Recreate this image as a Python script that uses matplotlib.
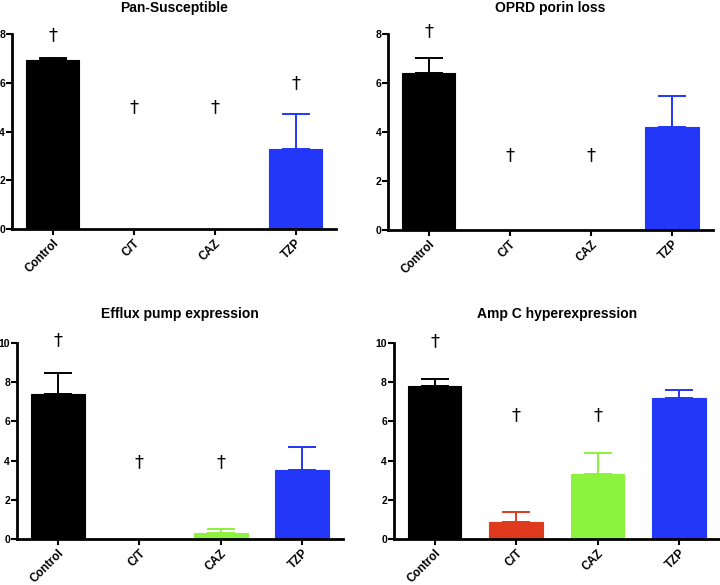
import matplotlib.pyplot as plt
import numpy as np

plt.rcParams['font.family'] = ['Liberation Sans', 'DejaVu Sans']

categories = ["Control", "C/T", "CAZ", "TZP"]
colors = ["#000000", "#e03a1e", "#8cf23e", "#2237f7"]

titles = ["Pan-Susceptible", "OPRD porin loss", "Efflux pump expression", "Amp C hyperexpression"]

# bar means
pan_vals = [6.95, 0, 0, 3.3]
oprd_vals = [6.4, 0, 0, 4.2]
efflux_vals = [7.4, 0, 0.33, 3.5]
ampc_vals = [7.8, 0.85, 3.3, 7.2]

# upper error
pan_err = [0.05, 0, 0, 1.4]
oprd_err = [0.6, 0, 0, 1.25]
efflux_err = [1.07, 0, 0.17, 1.2]
ampc_err = [0.35, 0.55, 1.1, 0.4]

# dagger positions (None = no dagger)
pan_dag = [7.95, 5.0, 5.0, 6.0]
oprd_dag = [8.1, 3.05, 3.05, None]
efflux_dag = [10.15, 3.9, 3.9, None]
ampc_dag = [10.1, 6.3, 6.3, None]

ymaxs = [8, 8, 10, 10]
yticks = [[0, 2, 4, 6, 8], [0, 2, 4, 6, 8], [0, 2, 4, 6, 8, 10], [0, 2, 4, 6, 8, 10]]

vals = [pan_vals, oprd_vals, efflux_vals, ampc_vals]
errs = [pan_err, oprd_err, efflux_err, ampc_err]
dags = [pan_dag, oprd_dag, efflux_dag, ampc_dag]

positions = [
    [0.0167, 0.6085, 0.45, 0.3333],
    [0.539, 0.607, 0.451, 0.335],
    [0.0236, 0.0786, 0.4528, 0.335],
    [0.547, 0.0786, 0.4528, 0.335],
]

fig = plt.figure(figsize=(7.2, 5.85), dpi=100)

for i in range(4):
    ax = fig.add_axes(positions[i])
    x = np.arange(len(categories))
    for j in range(len(categories)):
        if vals[i][j] > 0:
            ax.bar(x[j], vals[i][j], width=0.66, color=colors[j], edgecolor=colors[j], linewidth=0.8, zorder=2)
            ax.errorbar(x[j], vals[i][j], yerr=[[0], [errs[i][j]]], color=colors[j],
                        capsize=10, elinewidth=1.4, capthick=1.4, fmt='none', zorder=1)
        if dags[i][j] is not None:
            ax.text(x[j], dags[i][j], "\u2020", ha='center', va='center', fontsize=13,
                    family=['DejaVu Sans'], clip_on=False)
    ax.set_xlim(-0.5, 3.5)
    ax.set_ylim(0, ymaxs[i])
    ax.set_yticks(yticks[i])
    ax.set_xticks(x)
    ax.set_xticklabels(categories, rotation=45, ha='right', rotation_mode='anchor',
                       fontsize=8.5, fontweight='bold')
    for lab in ax.get_yticklabels():
        lab.set_fontweight('bold')
        lab.set_fontsize(7.5)
    ax.spines['top'].set_visible(False)
    ax.spines['right'].set_visible(False)
    ax.spines['left'].set_linewidth(2)
    ax.spines['bottom'].set_linewidth(2)
    ax.tick_params(axis='both', width=1.5, length=4, pad=1)
    ax.tick_params(axis='x', pad=2)
    ax.set_title(titles[i], fontsize=10, fontweight='bold', pad=16 if i < 2 else 18)

fig.savefig("out.png", dpi=100)
